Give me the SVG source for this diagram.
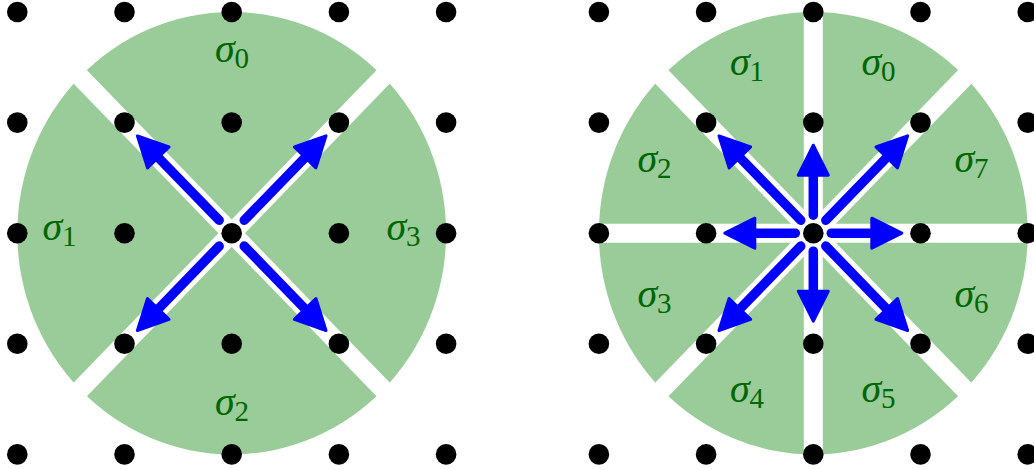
<svg xmlns="http://www.w3.org/2000/svg" width="1034" height="470" viewBox="0 0 1034 470">
<style>
.sector{fill:#99cc99;stroke:none}
.gap{stroke:#ffffff;stroke-width:19;fill:none}
.dot{fill:#000000}
.arrow{stroke:#0000ff;stroke-width:9.5;stroke-linecap:round;fill:none;marker-end:url(#head)}
.lbl{font-family:"Liberation Serif","DejaVu Serif",serif;font-size:40px;fill:#006600;text-anchor:middle}
.sym{font-style:italic}
.sub{font-size:29px;font-style:normal}
</style>
<defs>
<marker id="head" markerUnits="userSpaceOnUse" viewBox="-3 -19 38 38" markerWidth="38" markerHeight="38" refX="0" refY="0" orient="auto" overflow="visible">
<path d="M0,-15 L30,0 L0,15 Z" fill="#0000ff" stroke="#0000ff" stroke-width="3" stroke-linejoin="round"/>
</marker>
</defs>

<g id="left-diagram">
<g id="left-sectors">
<ellipse class="sector" cx="231.7" cy="233.2" rx="214.4" ry="221.2"/>
</g>
<g id="left-gaps">
<line class="gap" x1="17.3" y1="12" x2="446.1" y2="454.4"/>
<line class="gap" x1="446.1" y1="12" x2="17.3" y2="454.4"/>
</g>
<g id="left-labels">
<text id="l-sigma0" class="lbl" x="232" y="62"><tspan class="sym">σ</tspan><tspan class="sub" dy="6">0</tspan></text>
<text id="l-sigma1" class="lbl" x="59.5" y="240"><tspan class="sym">σ</tspan><tspan class="sub" dy="6">1</tspan></text>
<text id="l-sigma2" class="lbl" x="232" y="415"><tspan class="sym">σ</tspan><tspan class="sub" dy="6">2</tspan></text>
<text id="l-sigma3" class="lbl" x="403.5" y="240"><tspan class="sym">σ</tspan><tspan class="sub" dy="6">3</tspan></text>
</g>
<g id="left-dots">
<circle class="dot" cx="17.3" cy="12" r="10.3"/><circle class="dot" cx="124.5" cy="12" r="10.3"/><circle class="dot" cx="231.7" cy="12" r="10.3"/><circle class="dot" cx="338.9" cy="12" r="10.3"/><circle class="dot" cx="446.1" cy="12" r="10.3"/>
<circle class="dot" cx="17.3" cy="122.6" r="10.3"/><circle class="dot" cx="124.5" cy="122.6" r="10.3"/><circle class="dot" cx="231.7" cy="122.6" r="10.3"/><circle class="dot" cx="338.9" cy="122.6" r="10.3"/><circle class="dot" cx="446.1" cy="122.6" r="10.3"/>
<circle class="dot" cx="17.3" cy="233.2" r="10.3"/><circle class="dot" cx="124.5" cy="233.2" r="10.3"/><circle class="dot" cx="231.7" cy="233.2" r="10.3"/><circle class="dot" cx="338.9" cy="233.2" r="10.3"/><circle class="dot" cx="446.1" cy="233.2" r="10.3"/>
<circle class="dot" cx="17.3" cy="343.8" r="10.3"/><circle class="dot" cx="124.5" cy="343.8" r="10.3"/><circle class="dot" cx="231.7" cy="343.8" r="10.3"/><circle class="dot" cx="338.9" cy="343.8" r="10.3"/><circle class="dot" cx="446.1" cy="343.8" r="10.3"/>
<circle class="dot" cx="17.3" cy="454.4" r="10.3"/><circle class="dot" cx="124.5" cy="454.4" r="10.3"/><circle class="dot" cx="231.7" cy="454.4" r="10.3"/><circle class="dot" cx="338.9" cy="454.4" r="10.3"/><circle class="dot" cx="446.1" cy="454.4" r="10.3"/>
</g>
<g id="left-arrows">
<line class="arrow" x1="219.17" y1="220.28" x2="158.27" y2="157.45"/>
<line class="arrow" x1="244.23" y1="220.28" x2="305.13" y2="157.45"/>
<line class="arrow" x1="219.17" y1="246.12" x2="158.27" y2="308.95"/>
<line class="arrow" x1="244.23" y1="246.12" x2="305.13" y2="308.95"/>
</g>
</g>

<g id="right-diagram">
<g id="right-sectors">
<ellipse class="sector" cx="813.3" cy="233.2" rx="214.4" ry="221.2"/>
</g>
<g id="right-gaps">
<line class="gap" x1="580" y1="233.2" x2="1034" y2="233.2"/>
<line class="gap" x1="813.3" y1="0" x2="813.3" y2="470"/>
<line class="gap" x1="598.9" y1="12" x2="1027.7" y2="454.4"/>
<line class="gap" x1="1027.7" y1="12" x2="598.9" y2="454.4"/>
</g>
<g id="right-labels">
<text id="r-sigma0" class="lbl" x="878.5" y="75"><tspan class="sym">σ</tspan><tspan class="sub" dy="6">0</tspan></text>
<text id="r-sigma1" class="lbl" x="747" y="75"><tspan class="sym">σ</tspan><tspan class="sub" dy="6">1</tspan></text>
<text id="r-sigma2" class="lbl" x="654.5" y="172"><tspan class="sym">σ</tspan><tspan class="sub" dy="6">2</tspan></text>
<text id="r-sigma3" class="lbl" x="654.5" y="307"><tspan class="sym">σ</tspan><tspan class="sub" dy="6">3</tspan></text>
<text id="r-sigma4" class="lbl" x="747" y="402"><tspan class="sym">σ</tspan><tspan class="sub" dy="6">4</tspan></text>
<text id="r-sigma5" class="lbl" x="878.5" y="402"><tspan class="sym">σ</tspan><tspan class="sub" dy="6">5</tspan></text>
<text id="r-sigma6" class="lbl" x="971.5" y="307"><tspan class="sym">σ</tspan><tspan class="sub" dy="6">6</tspan></text>
<text id="r-sigma7" class="lbl" x="971.5" y="172"><tspan class="sym">σ</tspan><tspan class="sub" dy="6">7</tspan></text>
</g>
<g id="right-dots">
<circle class="dot" cx="598.9" cy="12" r="10.3"/><circle class="dot" cx="706.1" cy="12" r="10.3"/><circle class="dot" cx="813.3" cy="12" r="10.3"/><circle class="dot" cx="920.5" cy="12" r="10.3"/><circle class="dot" cx="1027.7" cy="12" r="10.3"/>
<circle class="dot" cx="598.9" cy="122.6" r="10.3"/><circle class="dot" cx="706.1" cy="122.6" r="10.3"/><circle class="dot" cx="813.3" cy="122.6" r="10.3"/><circle class="dot" cx="920.5" cy="122.6" r="10.3"/><circle class="dot" cx="1027.7" cy="122.6" r="10.3"/>
<circle class="dot" cx="598.9" cy="233.2" r="10.3"/><circle class="dot" cx="706.1" cy="233.2" r="10.3"/><circle class="dot" cx="813.3" cy="233.2" r="10.3"/><circle class="dot" cx="920.5" cy="233.2" r="10.3"/><circle class="dot" cx="1027.7" cy="233.2" r="10.3"/>
<circle class="dot" cx="598.9" cy="343.8" r="10.3"/><circle class="dot" cx="706.1" cy="343.8" r="10.3"/><circle class="dot" cx="813.3" cy="343.8" r="10.3"/><circle class="dot" cx="920.5" cy="343.8" r="10.3"/><circle class="dot" cx="1027.7" cy="343.8" r="10.3"/>
<circle class="dot" cx="598.9" cy="454.4" r="10.3"/><circle class="dot" cx="706.1" cy="454.4" r="10.3"/><circle class="dot" cx="813.3" cy="454.4" r="10.3"/><circle class="dot" cx="920.5" cy="454.4" r="10.3"/><circle class="dot" cx="1027.7" cy="454.4" r="10.3"/>
</g>
<g id="right-arrows">
<line class="arrow" x1="800.77" y1="220.28" x2="739.87" y2="157.45"/>
<line class="arrow" x1="825.83" y1="220.28" x2="886.73" y2="157.45"/>
<line class="arrow" x1="800.77" y1="246.12" x2="739.87" y2="308.95"/>
<line class="arrow" x1="825.83" y1="246.12" x2="886.73" y2="308.95"/>
<line class="arrow" x1="831.3" y1="233.2" x2="871.8" y2="233.2"/>
<line class="arrow" x1="795.3" y1="233.2" x2="754.8" y2="233.2"/>
<line class="arrow" x1="813.3" y1="215.2" x2="813.3" y2="175.2"/>
<line class="arrow" x1="813.3" y1="251.2" x2="813.3" y2="291.2"/>
</g>
</g>
</svg>
